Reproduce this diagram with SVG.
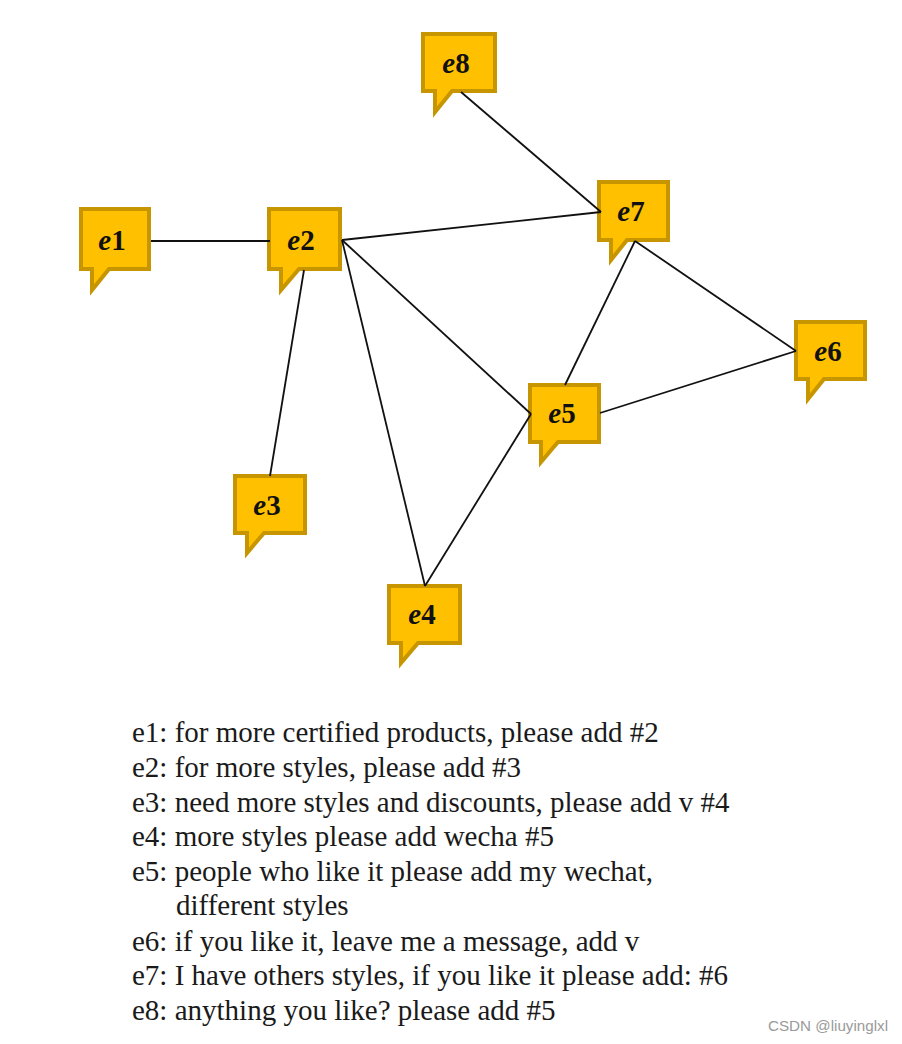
<svg xmlns="http://www.w3.org/2000/svg" width="902" height="1044" viewBox="0 0 902 1044">
<style>
.b{fill:#ffc000;stroke:#c69500;stroke-width:4;stroke-linejoin:miter}
.n{font-family:"Liberation Serif",serif;font-weight:bold;font-size:29px;fill:#111;text-anchor:middle}
.n tspan{font-style:italic}
.c line{stroke:#111;stroke-width:1.8}
.t{font-family:"Liberation Serif",serif;font-size:29px;fill:#1a1a1a}
.w{font-family:"Liberation Sans",sans-serif;font-size:15.2px;fill:#9a9a9a}
</style>
<rect width="902" height="1044" fill="#fff"/>
<g id="e1"><path class="b" d="M81 209H149V269H109L92 290V269H81Z"/><text class="n" x="112" y="250"><tspan>e</tspan>1</text></g>
<g id="e2"><path class="b" d="M269 209H340V269H299L281 290V269H269Z"/><text class="n" x="301" y="250"><tspan>e</tspan>2</text></g>
<g id="e3"><path class="b" d="M235 476H305V533H264L247 553V533H235Z"/><text class="n" x="267" y="515"><tspan>e</tspan>3</text></g>
<g id="e4"><path class="b" d="M389 586H460V643H418L401 663V643H389Z"/><text class="n" x="422" y="624"><tspan>e</tspan>4</text></g>
<g id="e5"><path class="b" d="M530 385H599V442H558L541 462V442H530Z"/><text class="n" x="562" y="423"><tspan>e</tspan>5</text></g>
<g id="e6"><path class="b" d="M796 322H865V379H824L808 399V379H796Z"/><text class="n" x="828" y="361"><tspan>e</tspan>6</text></g>
<g id="e7"><path class="b" d="M599 182H668V240H627L611 260V240H599Z"/><text class="n" x="631" y="221"><tspan>e</tspan>7</text></g>
<g id="e8"><path class="b" d="M423 34H495V91H452L435 112V91H423Z"/><text class="n" x="456" y="73"><tspan>e</tspan>8</text></g>
<g class="c" id="connectors">
<line x1="151" y1="241" x2="270" y2="241"/>
<line x1="342" y1="240" x2="601" y2="212"/>
<line x1="304" y1="270" x2="270" y2="476"/>
<line x1="342" y1="240" x2="425" y2="586"/>
<line x1="342" y1="240" x2="531" y2="414"/>
<line x1="531" y1="414" x2="425" y2="586"/>
<line x1="461" y1="92" x2="601" y2="212"/>
<line x1="635" y1="241" x2="565" y2="385"/>
<line x1="635" y1="241" x2="796" y2="351"/>
<line x1="600" y1="413" x2="796" y2="351"/>
</g>
<g id="legend" class="t">
<text x="132" y="742">e1: for more certified products, please add #2</text>
<text x="132" y="777">e2: for more styles, please add #3</text>
<text x="132" y="812">e3: need more styles and discounts, please add v #4</text>
<text x="132" y="846">e4: more styles please add wecha #5</text>
<text x="132" y="881">e5: people who like it please add my wechat,</text>
<text x="176" y="915">different styles</text>
<text x="132" y="951">e6: if you like it, leave me a message, add v</text>
<text x="132" y="985">e7: I have others styles, if you like it please add: #6</text>
<text x="132" y="1020">e8: anything you like? please add #5</text>
</g>
<text class="w" x="768" y="1031">CSDN @liuyinglxl</text>
</svg>
